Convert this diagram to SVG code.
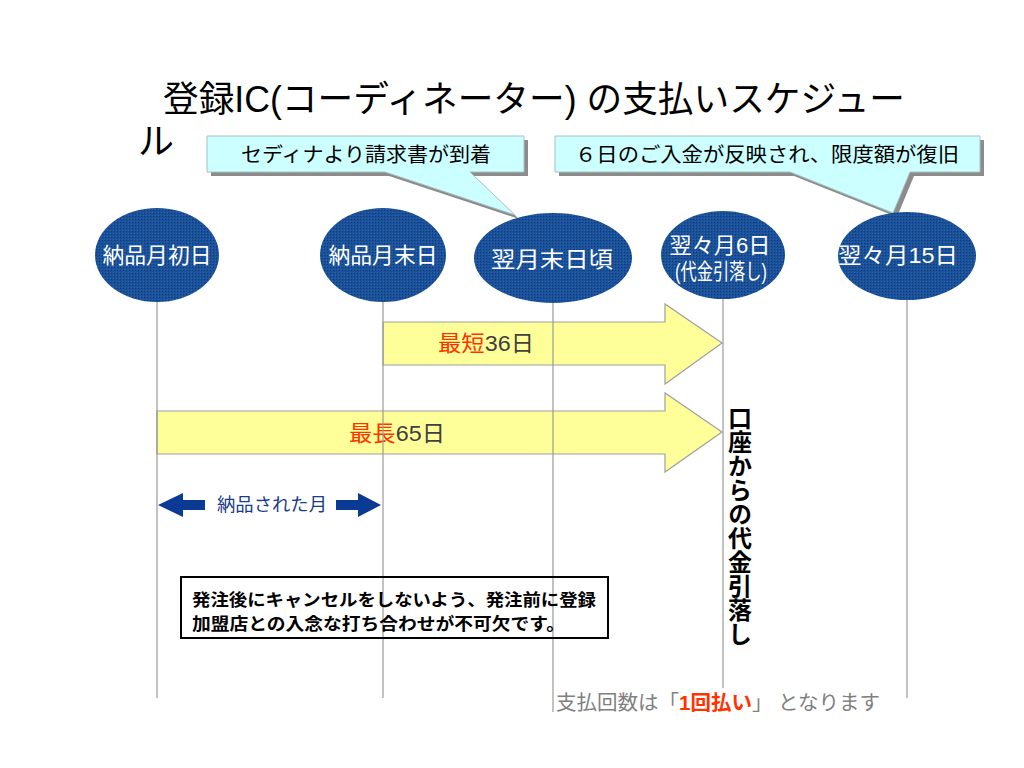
<svg xmlns="http://www.w3.org/2000/svg" width="1024" height="768" viewBox="0 0 1024 768">
<defs>
<pattern id="dots" width="3" height="3" patternUnits="userSpaceOnUse">
<rect width="3" height="3" fill="#1a5199"/>
<rect width="1" height="1" fill="#0b3a7c"/>
<rect x="2" y="2" width="1" height="1" fill="#2a62a8"/>
</pattern>
<style>
text{font-family:"Liberation Sans","Noto Sans CJK JP",sans-serif;}
.node{fill:url(#dots);}
.nt{fill:#ffffff;font-size:22px;text-anchor:middle;}
.vl{stroke:#9a9a9a;stroke-width:1.2;fill:none;}
.arr{fill:#ffff99;stroke:#a0a0a0;stroke-width:1.2;}
.co{fill:#ccffff;stroke:#a9c0c0;stroke-width:1;}
.sh{fill:#8c8c8c;}
.blue{fill:#0a3a94;}
</style>
</defs>
<rect width="1024" height="768" fill="#ffffff"/>

<g id="title">
<text x="163" y="112" font-size="36" fill="#000" textLength="742" lengthAdjust="spacingAndGlyphs">登録IC(コーディネーター) の支払いスケジュー</text>
<text x="138" y="154" font-size="36" fill="#000">ル</text>
</g>

<g id="connectors">
<g id="arrow-short">
<path class="arr" d="M383,322 H665 V304 L722,343 L665,384 V365 H383 Z"/>
<text x="438" y="351" font-size="22" textLength="96" lengthAdjust="spacingAndGlyphs"><tspan fill="#ff3300">最短</tspan><tspan fill="#404040">36日</tspan></text>
</g>
<g id="arrow-long">
<path class="arr" d="M157,411 H665 V393 L722,432 L665,472 V454 H157 Z"/>
<text x="349" y="441" font-size="22" textLength="96" lengthAdjust="spacingAndGlyphs"><tspan fill="#ff3300">最長</tspan><tspan fill="#404040">65日</tspan></text>
</g>
<line class="vl" x1="157" y1="302" x2="157" y2="698"/>
<line class="vl" x1="383" y1="302" x2="383" y2="698"/>
<line class="vl" x1="553" y1="303" x2="553" y2="712"/>
<line class="vl" x1="723" y1="298" x2="723" y2="688"/>
<line class="vl" x1="907" y1="300" x2="907" y2="698"/>
<g id="month-span">
<path class="blue" d="M158,505 L183,493 V500 H205 V510 H183 V517 Z"/>
<path class="blue" d="M381,505 L358,493 V500 H336 V510 H358 V517 Z"/>
<text x="217" y="511" font-size="18" fill="#1a3a8a" textLength="110" lengthAdjust="spacingAndGlyphs">納品された月</text>
</g>
</g>

<g id="callout-invoice">
<path class="sh" d="M211,140 H528 V176 H474 L519,219 L389,176 H211 Z"/>
<path class="co" d="M207,136 H524 V172 H470 L515,215 L385,172 H207 Z"/>
<text x="366" y="162" font-size="20" fill="#000" text-anchor="middle" textLength="250" lengthAdjust="spacingAndGlyphs">セディナより請求書が到着</text>
</g>

<g id="callout-restore">
<path class="sh" d="M559,140 H984 V176 H914 L897,217 L794,176 H559 Z"/>
<path class="co" d="M555,136 H980 V172 H910 L893,213 L790,172 H555 Z"/>
<text x="767" y="162" font-size="20" fill="#000" text-anchor="middle" textLength="384" lengthAdjust="spacingAndGlyphs">６日のご入金が反映され、限度額が復旧</text>
</g>

<g id="node-start">
<ellipse class="node" cx="157" cy="255" rx="62" ry="47"/>
<text class="nt" x="157" y="263" textLength="109" lengthAdjust="spacingAndGlyphs">納品月初日</text>
</g>
<g id="node-end">
<ellipse class="node" cx="383" cy="255" rx="63" ry="47"/>
<text class="nt" x="383" y="263" textLength="109" lengthAdjust="spacingAndGlyphs">納品月末日</text>
</g>
<g id="node-next-end">
<ellipse class="node" cx="553" cy="258" rx="79" ry="45"/>
<text class="nt" x="552" y="267" font-size="24" textLength="122" lengthAdjust="spacingAndGlyphs">翌月末日頃</text>
</g>
<g id="node-6th">
<ellipse class="node" cx="723" cy="255" rx="62" ry="44"/>
<text class="nt" x="720" y="253" textLength="101" lengthAdjust="spacingAndGlyphs">翌々月6日</text>
<text class="nt" x="721" y="279" font-size="13" textLength="92" lengthAdjust="spacingAndGlyphs">(代金引落し)</text>
</g>
<g id="node-15th">
<ellipse class="node" cx="907" cy="256" rx="69" ry="44"/>
<text class="nt" x="898" y="263" textLength="120" lengthAdjust="spacingAndGlyphs">翌々月15日</text>
</g>

<g id="debit-label">
<text x="740" y="406" font-size="24" font-weight="bold" fill="#000" style="writing-mode:vertical-rl;font-family:'Noto Sans CJK JP',sans-serif;">口座からの代金引落し</text>
</g>

<g id="note">
<rect x="181" y="577" width="427" height="61" fill="none" stroke="#000" stroke-width="2"/>
<text x="192" y="606" font-size="17" font-weight="bold" fill="#000" textLength="404" lengthAdjust="spacingAndGlyphs">発注後にキャンセルをしないよう、発注前に登録</text>
<text x="192" y="630" font-size="17" font-weight="bold" fill="#000" textLength="373" lengthAdjust="spacingAndGlyphs">加盟店との入念な打ち合わせが不可欠です。</text>
</g>

<g id="footer">
<text x="556" y="710" font-size="20" fill="#808080" textLength="324" lengthAdjust="spacingAndGlyphs">支払回数は「<tspan fill="#ff3300" font-weight="bold">1回払い</tspan>」 となります</text>
</g>
</svg>
